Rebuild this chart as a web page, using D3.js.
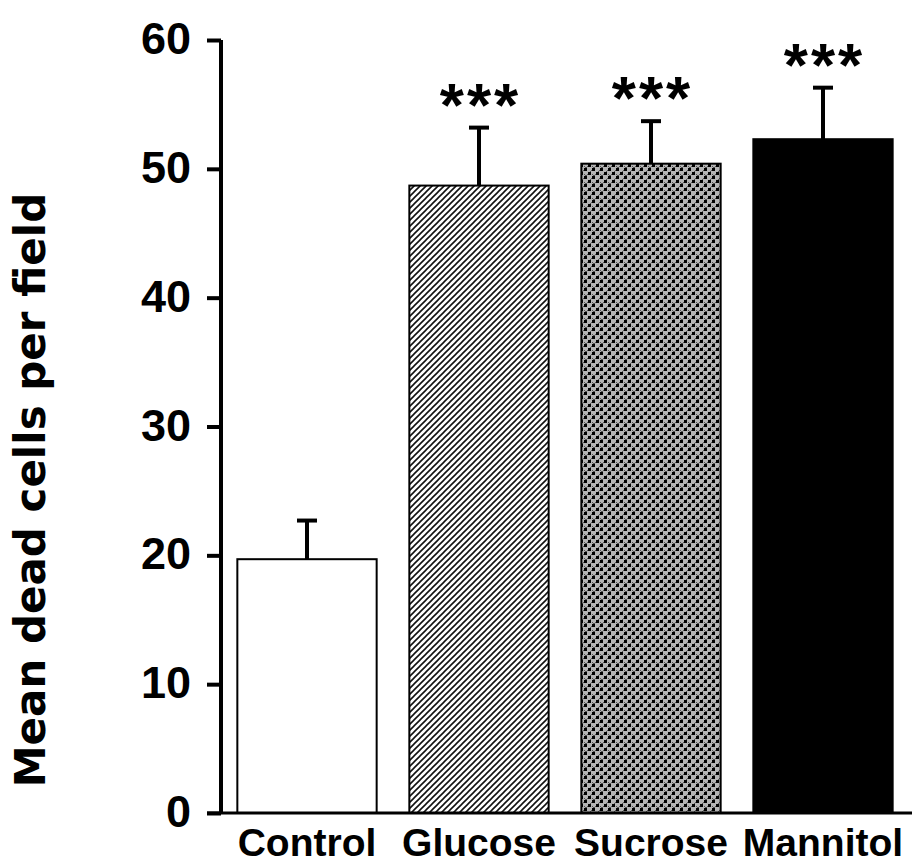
<!DOCTYPE html>
<html>
<head>
<meta charset="utf-8">
<script src="https://cdn.jsdelivr.net/npm/d3@7"></script>
<style>
  body { margin: 0; background: #fff; }
  svg { display: block; }
</style>
</head>
<body>
<div id="chart"></div>
<script>
// data
var groups = ["Control", "Glucose", "Sucrose", "Mannitol"];
var means = [19.7, 48.7, 50.4, 52.3];
var sem = [3.0, 4.5, 3.3, 4.0];
var stars = ["", "***", "***", "***"];
var yTicks = [0, 10, 20, 30, 40, 50, 60];

var svgWidth = 912;
var svgHeight = 864;

var svg = d3.select("#chart")
  .append("svg")
  .attr("width", svgWidth)
  .attr("height", svgHeight);

// fill patterns
var defs = svg.append("defs");

var hatch = defs.append("pattern")
  .attr("id", "hatch")
  .attr("patternUnits", "userSpaceOnUse")
  .attr("width", 6)
  .attr("height", 6);
hatch.append("rect").attr("width", 6).attr("height", 6).attr("fill", "#fff");
hatch.append("path")
  .attr("d", "M-1,1 l2,-2 M0,6 l6,-6 M5,7 l2,-2")
  .attr("stroke", "#111")
  .attr("stroke-width", 1.6);

var check = defs.append("pattern")
  .attr("id", "check")
  .attr("patternUnits", "userSpaceOnUse")
  .attr("width", 8)
  .attr("height", 8);
check.append("rect").attr("width", 8).attr("height", 8).attr("fill", "#b4b4b4");
check.append("path")
  .attr("d", "M0,2 L2,0 M2,8 L8,2 M6,0 L8,-2 M0,6 L2,8")
  .attr("stroke", "#555")
  .attr("stroke-width", 1);
check.append("rect").attr("x", 0).attr("y", 0).attr("width", 3).attr("height", 3).attr("fill", "#000");
check.append("rect").attr("x", 4).attr("y", 4).attr("width", 3).attr("height", 3).attr("fill", "#000");

var fills = ["#fff", "url(#hatch)", "url(#check)", "#000"];

//Scale
var x = d3.scaleBand()
  .domain(groups)
  .range([221, 909])
  .paddingInner(0.19)
  .paddingOuter(0.095);

var y = d3.scaleLinear()
  .domain([0, 60])
  .range([813, 40]);

//Bars
svg.selectAll(".bar")
  .data(groups)
  .enter()
  .append("rect")
  .attr("class", "bar")
  .attr("x", d => x(d))
  .attr("y", (d, i) => y(means[i]))
  .attr("width", x.bandwidth())
  .attr("height", (d, i) => y(0) - y(means[i]))
  .attr("fill", (d, i) => fills[i])
  .attr("stroke", "#000")
  .attr("stroke-width", 2);

//Error bars (upper only)
groups.forEach(function (g, i) {
  var cx = x(g) + x.bandwidth() / 2;
  svg.append("line")
    .attr("x1", cx).attr("x2", cx)
    .attr("y1", y(means[i])).attr("y2", y(means[i] + sem[i]))
    .attr("stroke", "#000")
    .attr("stroke-width", 4);
  svg.append("line")
    .attr("x1", cx - 10).attr("x2", cx + 10)
    .attr("y1", y(means[i] + sem[i])).attr("y2", y(means[i] + sem[i]))
    .attr("stroke", "#000")
    .attr("stroke-width", 4);
  svg.append("text")
    .attr("x", cx + 1.5)
    .attr("y", y(means[i] + sem[i]) - 2)
    .attr("text-anchor", "middle")
    .style("font-family", "'Liberation Sans', Arial, sans-serif")
    .style("font-weight", "bold")
    .style("font-size", "62px")
    .style("letter-spacing", "3px")
    .text(stars[i]);
});

//Axis
var leftAxis = d3.axisLeft(y)
  .tickValues(yTicks)
  .tickSize(14)
  .tickPadding(16)
  .tickFormat(d3.format("d"));

var yAxis = svg.append("g")
  .attr("transform", "translate(221,0)")
  .call(leftAxis);
yAxis.select(".domain")
  .attr("d", `M0,${y(60)}V${y(0)}`)
  .attr("stroke-width", 4);
yAxis.selectAll(".tick line").attr("stroke-width", 4);
yAxis.selectAll(".tick text")
  .attr("dy", "0.3em")
  .style("font-family", "'Liberation Sans', Arial, sans-serif")
  .style("font-weight", "bold")
  .style("font-size", "45px")
  .attr("fill", "#000");

// baseline
svg.append("line")
  .attr("x1", 207).attr("x2", 912)
  .attr("y1", y(0)).attr("y2", y(0))
  .attr("stroke", "#000")
  .attr("stroke-width", 3);

var bottomAxis = d3.axisBottom(x).tickSize(0).tickPadding(15);
var xAxis = svg.append("g")
  .attr("transform", `translate(0, ${y(0)})`)
  .call(bottomAxis);
xAxis.select(".domain").remove();
xAxis.selectAll(".tick text")
  .attr("dy", "0.71em")
  .style("font-family", "'Liberation Sans', Arial, sans-serif")
  .style("font-weight", "bold")
  .style("font-size", "39px")
  .attr("fill", "#000");

//Labels
svg.append("text")
  .attr("transform", "translate(45, 490) rotate(-90)")
  .attr("text-anchor", "middle")
  .style("font-family", "'DejaVu Sans', sans-serif")
  .style("font-weight", "bold")
  .style("font-size", "42px")
  .text("Mean dead cells per field");
</script>
</body>
</html>
